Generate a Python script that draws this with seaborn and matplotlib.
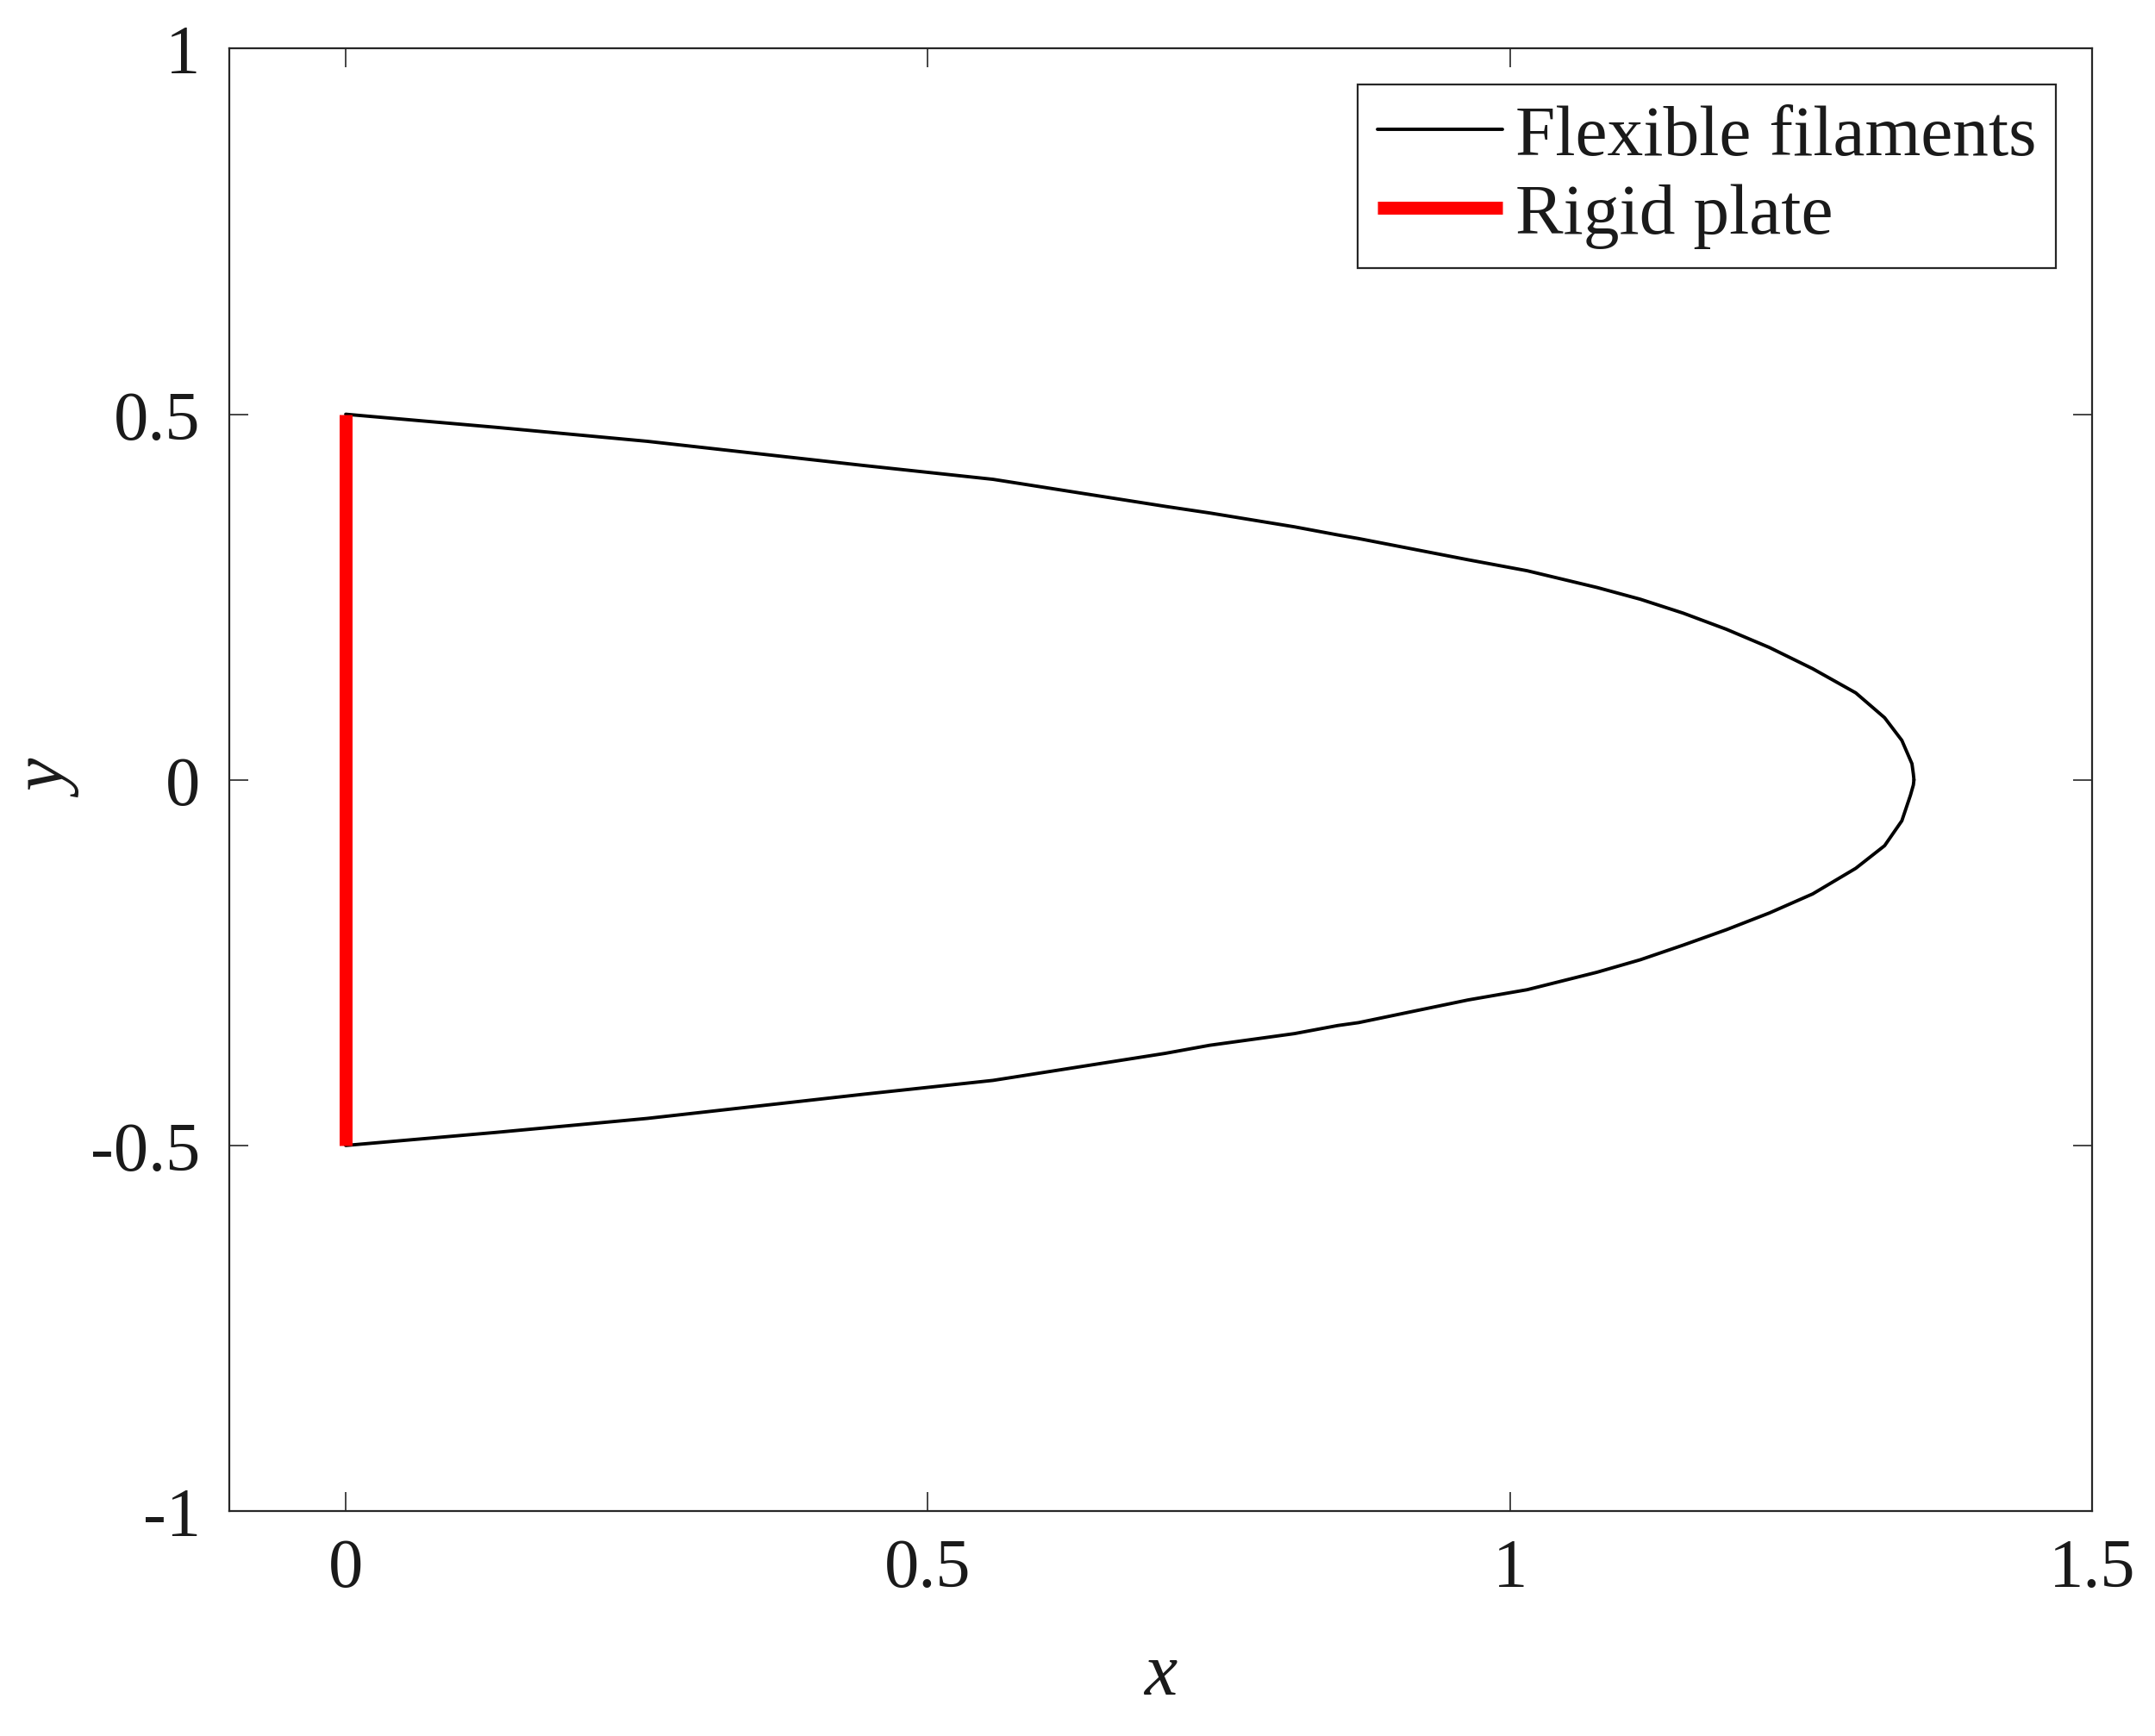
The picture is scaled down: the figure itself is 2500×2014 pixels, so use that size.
import numpy as np
import pandas as pd
import matplotlib
matplotlib.use('Agg')
import matplotlib.pyplot as plt
import seaborn as sns

# Filament shape (upper and lower halves)
upper_x = [0.0, 0.13, 0.259, 0.4445, 0.556, 0.704, 0.742, 0.815, 0.852, 0.870,
           0.964, 1.0147, 1.075, 1.112, 1.1488, 1.1858, 1.2229, 1.26, 1.297,
           1.3218, 1.3366, 1.3453, 1.3465, 1.347]
upper_y = [0.5, 0.482, 0.463, 0.430, 0.411, 0.374, 0.365, 0.346, 0.335, 0.330,
           0.301, 0.286, 0.263, 0.247, 0.228, 0.206, 0.181, 0.152, 0.119,
           0.085, 0.054, 0.022, 0.008, 0.0]
lower_x = [1.347, 1.3465, 1.344, 1.3366, 1.3218, 1.297, 1.26, 1.2229, 1.1858,
           1.1488, 1.112, 1.075, 1.0147, 0.964, 0.870, 0.852, 0.815, 0.742,
           0.704, 0.556, 0.4445, 0.259, 0.13, 0.0]
lower_y = [0.0, -0.007, -0.021, -0.056, -0.090, -0.121, -0.156, -0.182, -0.205,
           -0.226, -0.246, -0.263, -0.287, -0.301, -0.332, -0.336, -0.347, -0.363,
           -0.374, -0.411, -0.430, -0.463, -0.482, -0.5]

# Rigid plate at the leading edge
plate_x = [0.0, 0.0]
plate_y = [-0.5, 0.5]

x_ticks = [0, 0.5, 1, 1.5]
x_tick_labels = ['0', '0.5', '1', '1.5']
y_ticks = [-1, -0.5, 0, 0.5, 1]
y_tick_labels = ['-1', '-0.5', '0', '0.5', '1']

sns.set_style('ticks')
plt.rcParams['font.family'] = ['Liberation Serif', 'DejaVu Serif']
plt.rcParams['axes.unicode_minus'] = False
plt.rcParams['text.color'] = '#1a1a1a'
plt.rcParams['axes.labelcolor'] = '#1a1a1a'
plt.rcParams['xtick.labelcolor'] = '#1a1a1a'
plt.rcParams['ytick.labelcolor'] = '#1a1a1a'

fig = plt.figure(figsize=(12.5, 10.075), dpi=200)
ax = fig.add_axes([0.1064, 0.1295, 0.8644, 0.842])

df_up = pd.DataFrame({'x': upper_x, 'y': upper_y})
df_lo = pd.DataFrame({'x': lower_x, 'y': lower_y})
df_plate = pd.DataFrame({'x': plate_x, 'y': plate_y})

sns.lineplot(data=df_up, x='x', y='y', estimator=None, sort=False, color='black',
             linewidth=1.4, label='Flexible filaments', ax=ax)
sns.lineplot(data=df_lo, x='x', y='y', estimator=None, sort=False, color='black',
             linewidth=1.4, ax=ax)
sns.lineplot(data=df_plate, x='x', y='y', estimator=None, sort=False, color='#ff0000',
             linewidth=5.4, solid_capstyle='butt', label='Rigid plate', ax=ax)

ax.set_xlim(-0.1, 1.5)
ax.set_ylim(-1, 1)
ax.set_xticks(x_ticks)
ax.set_xticklabels(x_tick_labels)
ax.set_yticks(y_ticks)
ax.set_yticklabels(y_tick_labels)

for side in ['top', 'right', 'bottom', 'left']:
    ax.spines[side].set_visible(True)
    ax.spines[side].set_linewidth(0.8)
    ax.spines[side].set_color('#262626')
ax.tick_params(axis='both', which='major', direction='in', length=8, width=0.6,
               top=True, right=True, labelsize=29, color='#262626')
ax.tick_params(axis='x', pad=11)
ax.tick_params(axis='y', pad=12)

ax.set_xlabel('x', fontsize=31, fontstyle='italic')
ax.set_ylabel('y', fontsize=31, fontstyle='italic')
ax.xaxis.set_label_coords(0.5, -0.089)
ax.yaxis.set_label_coords(-0.077, 0.5)

handles, labels = ax.get_legend_handles_labels()
leg = ax.legend(handles, labels, loc='upper right', fontsize=30, frameon=True,
                fancybox=False, framealpha=1, edgecolor='#262626',
                handlelength=1.75, handletextpad=0.18, borderpad=0.27,
                labelspacing=0.18, borderaxespad=0.5)
leg.get_frame().set_linewidth(0.8)

fig.savefig('out.png', dpi=200, facecolor='white')
